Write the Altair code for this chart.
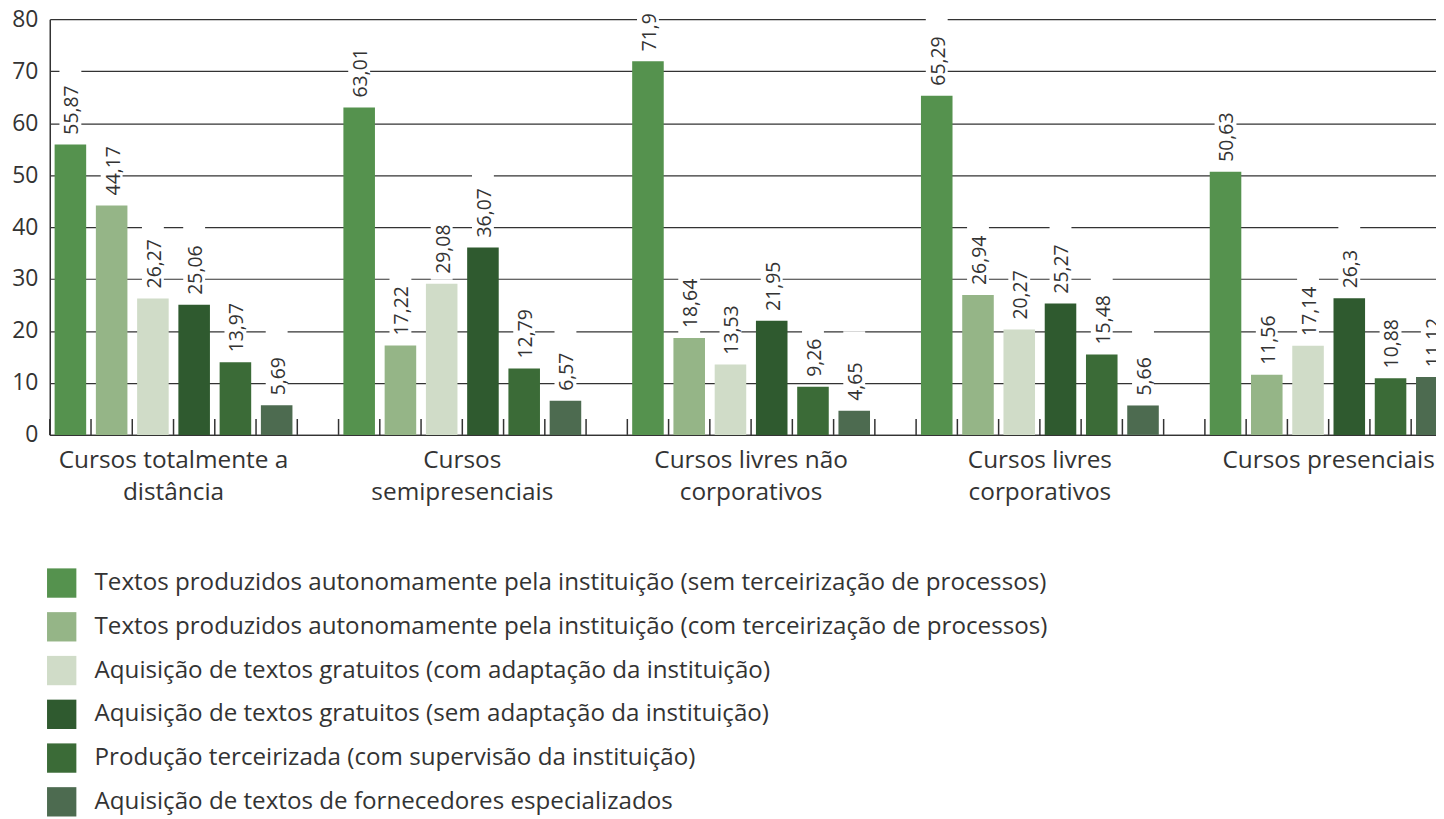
import altair as alt
import pandas as pd

groups = [
    "Cursos totalmente a\ndistância",
    "Cursos\nsemipresenciais",
    "Cursos livres não\ncorporativos",
    "Cursos livres\ncorporativos",
    "Cursos presenciais",
]
series = [
    "Textos produzidos autonomamente pela instituição (sem terceirização de processos)",
    "Textos produzidos autonomamente pela instituição (com terceirização de processos)",
    "Aquisição de textos gratuitos (com adaptação da instituição)",
    "Aquisição de textos gratuitos (sem adaptação da instituição)",
    "Produção terceirizada (com supervisão da instituição)",
    "Aquisição de textos de fornecedores especializados",
]
colors = ["#55924e", "#95b587", "#d0dcc8", "#2f5a2f", "#3b6b37", "#4d6b50"]

s1 = [55.87, 63.01, 71.9, 65.29, 50.63]
s2 = [44.17, 17.22, 18.64, 26.94, 11.56]
s3 = [26.27, 29.08, 13.53, 20.27, 17.14]
s4 = [25.06, 36.07, 21.95, 25.27, 26.3]
s5 = [13.97, 12.79, 9.26, 15.48, 10.88]
s6 = [5.69, 6.57, 4.65, 5.66, 11.12]
values = [s1, s2, s3, s4, s5, s6]

y_ticks = list(range(0, 81, 10))

SLOTS = 7  # 6 bars + one empty slot per group
slot_domain = [f"{g}-{s}" for g in range(len(groups)) for s in range(SLOTS)]

rows = []
for si, sname in enumerate(series):
    for gi in range(len(groups)):
        v = values[si][gi]
        rows.append({
            "slot": f"{gi}-{si}",
            "series": sname,
            "value": v,
            "label": str(v).replace(".", ","),
        })
df = pd.DataFrame(rows)
ticks_df = pd.DataFrame({"slot": slot_domain})
glabels_df = pd.DataFrame({
    "slot": [f"{gi}-3" for gi in range(len(groups))],
    "glabel": groups,
})

W, H = 1394, 418
FONT = "Open Sans"
TXT = "#333333"
P_IN, P_OUT = 0.235, 0.1175
RANGE_MAX = 1452
step = RANGE_MAX / (len(slot_domain) - P_IN + 2 * P_OUT)
off = step * P_OUT

xscale = alt.Scale(domain=slot_domain, range=[0, RANGE_MAX],
                   paddingInner=P_IN, paddingOuter=P_OUT)
yscale = alt.Scale(domain=[0, 80], nice=False)

xaxis = alt.Axis(labels=False, ticks=False, domain=True, domainColor="#333333",
                 domainWidth=1.5, grid=False, title=None)
yaxis = alt.Axis(values=y_ticks, grid=True, gridColor="#333333", gridWidth=1.2,
                 domain=True, domainColor="#333333", domainWidth=1.5, ticks=False,
                 labelPadding=12, labelFontSize=23, labelFont=FONT, labelColor=TXT,
                 title=None)

bars = alt.Chart(df).mark_bar().encode(
    x=alt.X("slot:O", scale=xscale, axis=xaxis),
    y=alt.Y("value:Q", scale=yscale, axis=yaxis),
    color=alt.Color(
        "series:N",
        scale=alt.Scale(domain=series, range=colors),
        legend=alt.Legend(
            orient="none", legendX=-3, legendY=552, title=None,
            symbolType="square", symbolSize=870, symbolStrokeWidth=0,
            symbolOpacity=1, labelFontSize=24.3, labelFont=FONT, labelColor=TXT,
            rowPadding=14, labelOffset=18, labelLimit=0, direction="vertical",
        ),
    ),
)

halos = alt.Chart(df).mark_rule(color="white", strokeWidth=22, yOffset=-4,
                                y2Offset=-80, strokeCap="butt").encode(
    x=alt.X("slot:O", scale=xscale),
    y=alt.Y("value:Q", scale=yscale),
    y2=alt.Y2("value:Q"),
)

vlabels = alt.Chart(df).mark_text(angle=270, align="left", baseline="middle",
                                  dx=10, dy=2, font=FONT, fontSize=19.5,
                                  color=TXT).encode(
    x=alt.X("slot:O", scale=xscale),
    y=alt.Y("value:Q", scale=yscale),
    text="label:N",
)

ticks = alt.Chart(ticks_df).mark_rule(color="#333333", strokeWidth=1.5,
                                      xOffset=-off).encode(
    x=alt.X("slot:O", scale=xscale, bandPosition=0),
    y=alt.value(H),
    y2=alt.value(H - 16),
)

glabels = alt.Chart(glabels_df).mark_text(
    align="center", baseline="top", font=FONT, fontSize=24.5, color=TXT,
    lineBreak="\n", lineHeight=32, xOffset=-off,
).encode(
    x=alt.X("slot:O", scale=xscale, bandPosition=0),
    y=alt.value(H + 14),
    text="glabel:N",
)

chart = alt.layer(bars, halos, vlabels, ticks, glabels).properties(
    width=W, height=H,
    autosize=alt.AutoSizeParams(type="none"),
    padding={"left": 42, "top": 9, "right": 0, "bottom": 384},
).configure_view(stroke=None)

chart.save("out.html", embed_options={"renderer": "svg", "actions": False})
